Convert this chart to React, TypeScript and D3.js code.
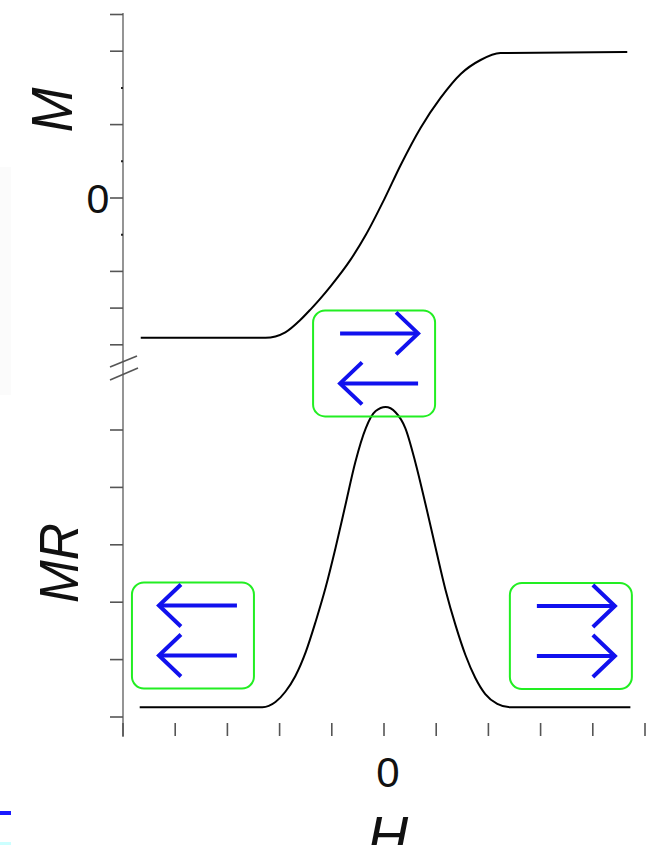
import React from "react";
import * as d3 from "d3";

// H axis (field), ticks -5..5
const hTicks = [-5, -4, -3, -2, -1, 0, 1, 2, 3, 4, 5];
// M axis ticks
const mMajorTicks = [-4, -3, -2, 0, 2, 4, 5];
const mMinorTicks = [-1, 1, 3];
// MR axis ticks
const mrTicks = [0, 1, 2, 3, 4, 5];

// Magnetization curve M(H)
const mH = [-4.66, -2.27, -1.89, -1.6, -1.41, -1.22, -1.02, -0.64, -0.35, 0, 0.32, 0.7, 1.08, 1.47, 1.85, 2.23, 4.66];
const mVal = [-3.81, -3.81, -3.66, -3.32, -3.04, -2.74, -2.4, -1.68, -1.01, -0.05, 0.9, 1.91, 2.72, 3.38, 3.76, 3.95, 3.98];

// Magnetoresistance curve MR(H)
const mrH = [-4.68, -2.33, -2.08, -1.89, -1.7, -1.5, -1.31, -1.12, -0.93, -0.74, -0.55, -0.35, -0.16, 0.03, 0.22, 0.41, 0.6, 0.8, 0.99, 1.18, 1.37, 1.56, 1.75, 1.94, 2.17, 2.42, 4.72];
const mrVal = [0.17, 0.17, 0.26, 0.44, 0.71, 1.13, 1.66, 2.25, 2.94, 3.69, 4.44, 5.03, 5.33, 5.4, 5.31, 5.03, 4.44, 3.69, 2.94, 2.21, 1.6, 1.08, 0.68, 0.4, 0.23, 0.17, 0.17];

// Annotation boxes (position in H / MR units) and arrow directions
const boxH = [-0.19, -3.66, 3.58];
const boxMR = [6.16, 1.42, 1.41];
const boxArrows = [
  ["right", "left"],
  ["left", "left"],
  ["right", "right"],
];

export default function App() {
  const x = d3.scaleLinear().domain([-5, 5]).range([123, 645]);
  const yM = d3.scaleLinear().domain([-4, 5]).range([344.8, 14.5]);
  const yMR = d3.scaleLinear().domain([0, 6]).range([717, 372.6]);

  const axisX = x(-5);
  const axisColor = "#7a7a7a";

  const mLine = d3
    .line<number>()
    .x((_, i) => x(mH[i]))
    .y((d) => yM(d))
    .curve(d3.curveMonotoneX)(mVal) as string;

  const mrLine = d3
    .line<number>()
    .x((_, i) => x(mrH[i]))
    .y((d) => yMR(d))
    .curve(d3.curveMonotoneX)(mrVal) as string;

  const boxW = 122;
  const boxHgt = 106;
  const green = "#22ee22";
  const blue = "#1111ee";

  const arrow = (cx: number, cy: number, dir: string, key: string) => {
    const x0 = cx - 34;
    const x1 = cx + 44;
    const tip = dir === "right" ? x1 : x0;
    const back = dir === "right" ? tip - 22 : tip + 22;
    return (
      <g key={key}>
        <line x1={x0} y1={cy} x2={x1} y2={cy} stroke={blue} strokeWidth={4} />
        <polyline
          points={`${back},${cy - 21} ${tip},${cy} ${back},${cy + 21}`}
          fill="none"
          stroke={blue}
          strokeWidth={4}
          strokeLinejoin="miter"
        />
      </g>
    );
  };

  return (
    <svg
      width={652}
      height={845}
      style={{ position: "absolute", left: 0, top: 0, background: "#fff" }}
      fontFamily="'Liberation Sans', Arial, sans-serif"
    >
      <rect x={0} y={0} width={652} height={845} fill="#fff" />
      <rect x={0} y={167} width={11} height={228} fill="#fbfbfb" />
      <rect x={0} y={811} width={11} height={4} fill="#1a1aff" />
      <rect x={0} y={842} width={11} height={3} fill="#ccffff" />

      {/* left axis */}
      <line x1={axisX} y1={13} x2={axisX} y2={737} stroke={axisColor} strokeWidth={1.6} />
      {/* axis break */}
      <line x1={110} y1={367} x2={137} y2={356} stroke="#555" strokeWidth={1.6} />
      <line x1={110} y1={380} x2={138} y2={368} stroke="#555" strokeWidth={1.6} />

      {mMajorTicks.map((t) => (
        <line key={"mM" + t} x1={110} y1={yM(t)} x2={axisX} y2={yM(t)} stroke="#555" strokeWidth={1.6} />
      ))}
      {mMinorTicks.map((t) => (
        <line key={"mm" + t} x1={axisX - 2} y1={yM(t)} x2={axisX} y2={yM(t)} stroke="#222" strokeWidth={2} />
      ))}
      {mrTicks.map((t) => (
        <line key={"mr" + t} x1={110} y1={yMR(t)} x2={axisX} y2={yMR(t)} stroke="#555" strokeWidth={1.6} />
      ))}
      {hTicks.map((t) => (
        <line key={"h" + t} x1={x(t)} y1={723} x2={x(t)} y2={736} stroke="#555" strokeWidth={1.6} />
      ))}

      {/* tick labels */}
      <text x={98} y={yM(0) + 15} fontSize={41} textAnchor="middle" fill="#111">0</text>
      <text x={x(0) + 4} y={787} fontSize={42} textAnchor="middle" fill="#111">0</text>

      {/* axis titles */}
      <text
        transform={`translate(72,110) rotate(-90)`}
        fontSize={58}
        fontStyle="italic"
        textAnchor="middle"
        textLength={45}
        lengthAdjust="spacingAndGlyphs"
        fill="#111"
      >
        M
      </text>
      <text
        transform={`translate(78,563) rotate(-90)`}
        fontSize={56}
        fontStyle="italic"
        textAnchor="middle"
        textLength={80}
        lengthAdjust="spacingAndGlyphs"
        fill="#111"
      >
        MR
      </text>
      <text x={x(0) + 4} y={855} fontSize={56} fontStyle="italic" textAnchor="middle" fill="#111">
        H
      </text>

      {/* curves */}
      <path d={mLine} fill="none" stroke="#000" strokeWidth={2} />
      <path d={mrLine} fill="none" stroke="#000" strokeWidth={2} />

      {/* annotation boxes */}
      {boxH.map((h, i) => {
        const cx = x(h);
        const cy = yMR(boxMR[i]);
        return (
          <g key={"box" + i}>
            <rect
              x={cx - boxW / 2}
              y={cy - boxHgt / 2}
              width={boxW}
              height={boxHgt}
              rx={12}
              ry={12}
              fill="none"
              stroke={green}
              strokeWidth={2}
            />
            {arrow(cx, cy - 30, boxArrows[i][0], "a0")}
            {arrow(cx, cy + 20, boxArrows[i][1], "a1")}
          </g>
        );
      })}
    </svg>
  );
}
